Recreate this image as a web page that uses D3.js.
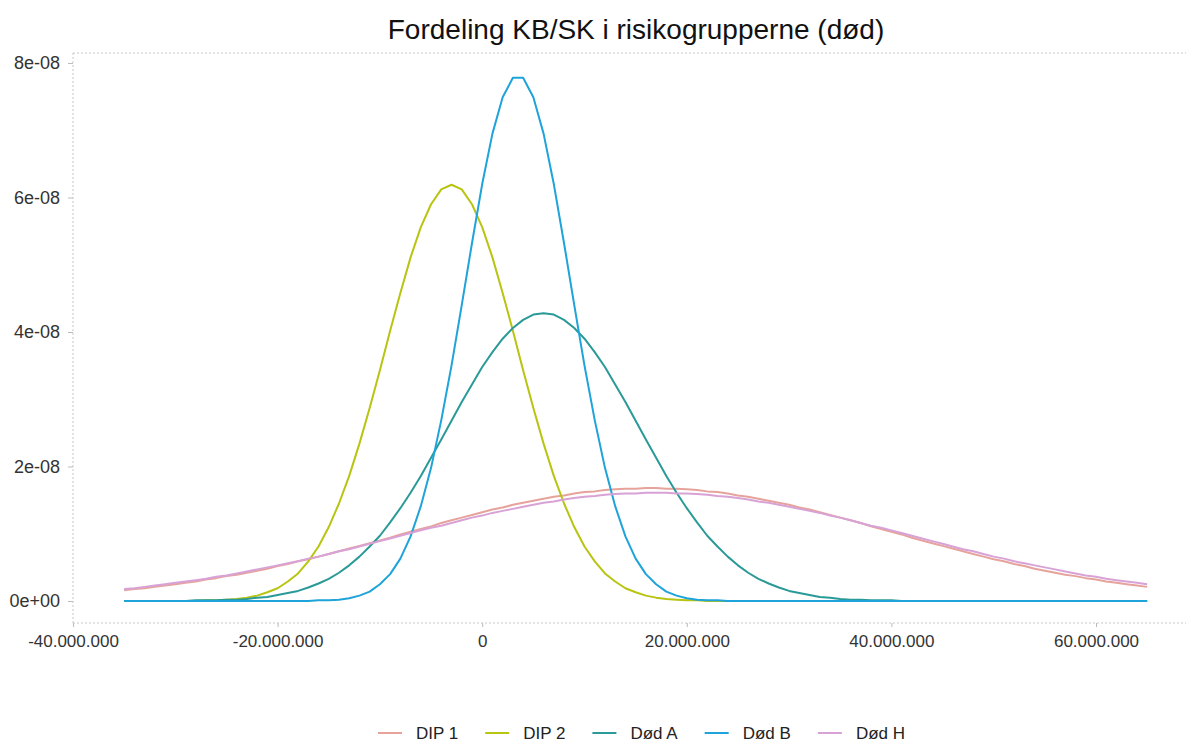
<!DOCTYPE html>
<html>
<head>
<meta charset="utf-8">
<script src="https://cdn.jsdelivr.net/npm/d3@7/dist/d3.min.js"></script>
<style>
  html, body { margin: 0; padding: 0; background: #fff; }
  svg { display: block; font-family: "Liberation Sans", Arial, sans-serif; }
</style>
</head>
<body>
<svg id="chart" width="1186" height="744"></svg>
<script>
// ---- data (x in millions, density in units of 1e-8) ----
const X_UNIT = 1e6;
const Y_UNIT = 1e-8;

const xs = [-35,-34,-33,-32,-31,-30,-29,-28,-27,-26,-25,-24,-23,-22,-21,-20,-19,-18,-17,-16,
  -15,-14,-13,-12,-11,-10,-9,-8,-7,-6,-5,-4,-3,-2,-1,0,1,2,3,4,5,6,7,8,9,10,11,12,13,14,
  15,16,17,18,19,20,21,22,23,24,25,26,27,28,29,30,31,32,33,34,35,36,37,38,39,40,41,42,43,44,
  45,46,47,48,49,50,51,52,53,54,55,56,57,58,59,60,61,62,63,64,65];

const seriesNames = ["DIP 1", "DIP 2", "Død A", "Død B", "Død H"];

const dip1 = [0.16,0.18,0.19,0.21,0.23,0.25,0.27,0.29,0.32,0.34,
  0.37,0.39,0.42,0.45,0.48,0.52,0.55,0.59,0.62,0.66,
  0.70,0.74,0.78,0.82,0.86,0.90,0.94,0.99,1.03,1.07,
  1.11,1.16,1.20,1.24,1.28,1.32,1.36,1.39,1.43,1.46,
  1.49,1.52,1.55,1.57,1.60,1.62,1.63,1.65,1.66,1.67,
  1.67,1.68,1.68,1.67,1.67,1.66,1.65,1.63,1.62,1.60,
  1.57,1.55,1.52,1.49,1.46,1.43,1.39,1.36,1.32,1.28,
  1.24,1.20,1.16,1.11,1.07,1.03,0.99,0.94,0.90,0.86,
  0.82,0.78,0.74,0.70,0.66,0.62,0.59,0.55,0.52,0.48,
  0.45,0.42,0.39,0.37,0.34,0.32,0.29,0.27,0.25,0.23,
  0.21];

const dip2 = [0,0,0,0,0,0,0,0,
  0.01,0.01,0.02,0.03,0.05,0.08,0.13,0.19,0.29,0.41,
  0.59,0.81,1.10,1.45,1.86,2.34,2.87,3.43,4.02,4.58,
  5.11,5.56,5.90,6.12,6.19,6.12,5.90,5.56,5.11,4.58,
  4.02,3.43,2.87,2.34,1.86,1.45,1.10,0.81,0.59,0.41,
  0.29,0.19,0.13,0.08,0.05,0.03,0.02,0.01,0.01,
  0,0,0,0,0,0,0,0,0,0,0,0,0,0,0,0,0,0,0,0,0,0,
  0,0,0,0,0,0,0,0,0,0,0,0,0,0,0,0,0,0,0,0,0,0];

const dodA = [0,0,0,0,0,0,0,
  0.01,0.01,0.01,0.02,0.02,0.03,0.05,0.06,0.09,0.12,
  0.15,0.20,0.26,0.33,0.42,0.53,0.66,0.81,0.97,1.17,
  1.38,1.61,1.86,2.13,2.40,2.68,2.96,3.22,3.48,3.70,
  3.90,4.06,4.18,4.26,4.28,4.26,4.18,4.06,3.90,3.70,
  3.48,3.22,2.96,2.68,2.40,2.13,1.86,1.61,1.38,1.17,
  0.97,0.81,0.66,0.53,0.42,0.33,0.26,0.20,0.15,0.12,
  0.09,0.06,0.05,0.03,0.02,0.02,0.01,0.01,0.01,
  0,0,0,0,0,0,0,0,0,0,0,0,0,0,0,0,0,0,0,0,0,0,0,0,0];

const dodB = [0,0,0,0,0,0,0,0,0,0,0,0,0,0,0,0,0,0,0,
  0.01,0.01,0.02,0.04,0.08,0.14,0.25,0.40,0.63,0.96,
  1.41,1.98,2.69,3.50,4.40,5.32,6.20,6.95,7.49,7.78,
  7.78,7.49,6.95,6.20,5.32,4.40,3.50,2.69,1.98,1.41,
  0.96,0.63,0.40,0.25,0.14,0.08,0.04,0.02,0.01,0.01,
  0,0,0,0,0,0,0,0,0,0,0,0,0,0,0,0,0,0,0,0,0,
  0,0,0,0,0,0,0,0,0,0,0,0,0,0,0,0,0,0,0,0,0];

const dodH = [0.18,0.19,0.21,0.23,0.25,0.27,0.29,0.31,0.33,0.36,
  0.38,0.41,0.44,0.47,0.50,0.53,0.56,0.59,0.63,0.66,
  0.70,0.74,0.77,0.81,0.85,0.89,0.93,0.97,1.01,1.05,
  1.09,1.12,1.16,1.20,1.24,1.27,1.31,1.34,1.37,1.40,
  1.43,1.46,1.48,1.51,1.53,1.55,1.56,1.58,1.59,1.60,
  1.60,1.61,1.61,1.61,1.60,1.60,1.59,1.58,1.56,1.55,
  1.53,1.51,1.48,1.46,1.43,1.40,1.37,1.34,1.31,1.27,
  1.24,1.20,1.16,1.12,1.09,1.05,1.01,0.97,0.93,0.89,
  0.85,0.81,0.77,0.74,0.70,0.66,0.63,0.59,0.56,0.53,
  0.50,0.47,0.44,0.41,0.38,0.36,0.33,0.31,0.29,0.27,
  0.25];

const seriesValues = [dip1, dip2, dodA, dodB, dodH];
const seriesColors = ["#e6a39c", "#b8c410", "#2a9a98", "#1ea3da", "#d8a2d6"];

const xTickValues = [-40e6, -20e6, 0, 20e6, 40e6, 60e6];
const yTickValues = [0, 2e-8, 4e-8, 6e-8, 8e-8];
const yTickLabels = ["0e+00", "2e-08", "4e-08", "6e-08", "8e-08"];
const titleText = "Fordeling KB/SK i risikogrupperne (død)";

// ---- layout ----
const svg = d3.select("#chart");
const frame = { left: 73, right: 1186, top: 53, bottom: 623 };

const x = d3.scaleLinear().domain([-40e6, 60e6]).range([73, 1096]);
const y = d3.scaleLinear().domain([0, 8e-8]).range([601, 63]);

const loc = d3.formatLocale({ decimal: ",", thousands: ".", grouping: [3], currency: ["", ""], minus: "-" });
const fmtX = loc.format(",.0f");

// title
svg.append("text")
  .attr("x", 636).attr("y", 39)
  .attr("text-anchor", "middle")
  .attr("font-size", 28)
  .attr("fill", "#111")
  .text(titleText);

// frame (dotted light grey)
const frameG = svg.append("g").attr("stroke", "#c8c8c8").attr("stroke-width", 1).attr("stroke-dasharray", "2,2").attr("fill", "none");
frameG.append("line").attr("x1", frame.left).attr("x2", frame.left).attr("y1", frame.top).attr("y2", frame.bottom);
frameG.append("line").attr("x1", frame.left).attr("x2", frame.right).attr("y1", frame.top).attr("y2", frame.top);
frameG.append("line").attr("x1", frame.left).attr("x2", frame.right).attr("y1", frame.bottom).attr("y2", frame.bottom);

// x axis
const xAxis = d3.axisBottom(x).tickValues(xTickValues).tickFormat(fmtX).tickSize(4).tickPadding(8);
const gx = svg.append("g").attr("transform", `translate(0,${frame.bottom})`).call(xAxis);
gx.select(".domain").remove();
gx.selectAll(".tick line").attr("stroke", "#bbb");
gx.selectAll(".tick text").attr("font-size", 17).attr("fill", "#333").attr("font-family", "Liberation Sans, Arial, sans-serif");

// y axis
const yAxis = d3.axisLeft(y).tickValues(yTickValues).tickFormat((d, i) => yTickLabels[i]).tickSize(5).tickPadding(8);
const gy = svg.append("g").attr("transform", `translate(${frame.left},0)`).call(yAxis);
gy.select(".domain").remove();
gy.selectAll(".tick line").attr("stroke", "#bbb");
gy.selectAll(".tick text").attr("font-size", 18).attr("fill", "#333").attr("font-family", "Liberation Sans, Arial, sans-serif");

// lines
const line = d3.line()
  .x((d, i) => x(xs[i] * X_UNIT))
  .y(d => y(d * Y_UNIT));

seriesValues.forEach((vals, k) => {
  svg.append("path")
    .datum(vals)
    .attr("fill", "none")
    .attr("stroke", seriesColors[k])
    .attr("stroke-width", 2)
    .attr("stroke-linejoin", "round")
    .attr("d", line);
});

// legend
const legend = svg.append("g");
let lx = 378;
const ly = 733;
seriesNames.forEach((name, k) => {
  legend.append("line")
    .attr("x1", lx).attr("x2", lx + 24)
    .attr("y1", ly).attr("y2", ly)
    .attr("stroke", seriesColors[k]).attr("stroke-width", 2);
  const t = legend.append("text")
    .attr("x", lx + 38).attr("y", ly + 6)
    .attr("font-size", 17).attr("fill", "#222")
    .text(name);
  const w = t.node().getComputedTextLength();
  lx = lx + 38 + w + 27;
});
</script>
</body>
</html>
